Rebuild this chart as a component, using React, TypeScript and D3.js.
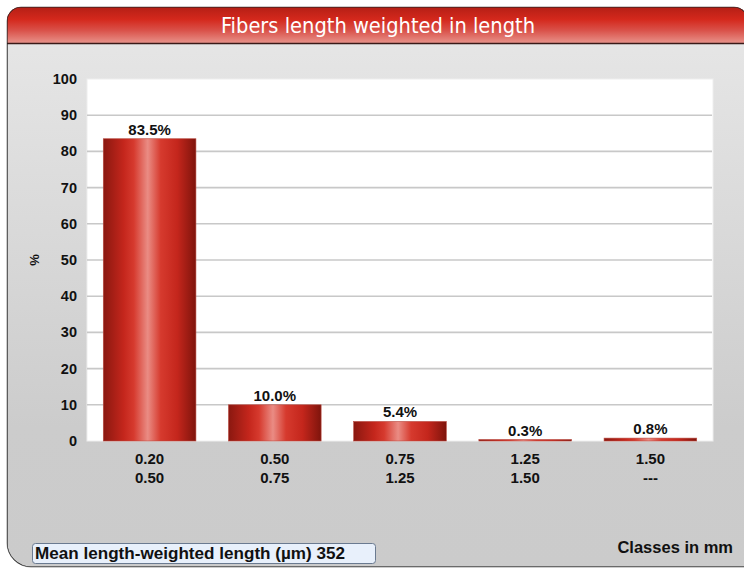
import React from "react";
import * as d3 from "d3";

const classLow = ["0.20", "0.50", "0.75", "1.25", "1.50"];
const classHigh = ["0.50", "0.75", "1.25", "1.50", "---"];
const values = [83.5, 10.0, 5.4, 0.3, 0.8];
const yTicks = [0, 10, 20, 30, 40, 50, 60, 70, 80, 90, 100];
const title = "Fibers length weighted in length";
const yLabel = "%";
const xLabel = "Classes in mm";
const meanText = "Mean length-weighted length (µm) 352";

const W = 744;
const H = 571;
const plot = { left: 87, right: 713, top: 79, bottom: 441 };

export default function App() {
  const cats = classLow.map((_, i) => String(i));
  const x = d3.scaleBand<string>().domain(cats).range([plot.left, plot.right]).paddingInner(0.26).paddingOuter(0.13);
  const y = d3.scaleLinear().domain([0, 100]).range([plot.bottom, plot.top]);
  const font = "'Liberation Sans', Arial, sans-serif";

  const frame = d3.path();
  const fx0 = 7, fy0 = 7, fx1 = 748, fy1 = 567, r = 14;
  frame.moveTo(fx0, fy0 + r);
  frame.arcTo(fx0, fy0, fx0 + r, fy0, r);
  frame.lineTo(fx1 - r, fy0);
  frame.arcTo(fx1, fy0, fx1, fy0 + r, r);
  frame.lineTo(fx1, fy1);
  frame.lineTo(fx0 + 24, fy1);
  frame.arcTo(fx0, fy1, fx0, fy1 - 24, 24);
  frame.closePath();

  return (
    <svg width={W} height={H} style={{ position: "absolute", left: 0, top: 0, display: "block" }}>
      <defs>
        <linearGradient id="bg" x1="0" y1="0" x2="0" y2="1">
          <stop offset="0" stopColor="#e8e8e8" />
          <stop offset="0.75" stopColor="#cccccc" />
          <stop offset="1" stopColor="#cbcbcb" />
        </linearGradient>
        <linearGradient id="hdr" x1="0" y1="0" x2="0" y2="1">
          <stop offset="0" stopColor="#a21a12" />
          <stop offset="0.45" stopColor="#d4281c" />
          <stop offset="0.7" stopColor="#d95048" />
          <stop offset="1" stopColor="#e8928a" />
        </linearGradient>
        <linearGradient id="bar" x1="0" y1="0" x2="1" y2="0">
          <stop offset="0" stopColor="#8a1810" />
          <stop offset="0.22" stopColor="#c4261c" />
          <stop offset="0.33" stopColor="#d63a2e" />
          <stop offset="0.48" stopColor="#ea8c84" />
          <stop offset="0.62" stopColor="#d63a2e" />
          <stop offset="0.8" stopColor="#c4261c" />
          <stop offset="1" stopColor="#7e140c" />
        </linearGradient>
        <clipPath id="fclip">
          <path d={frame.toString()} />
        </clipPath>
      </defs>
      <rect x={0} y={0} width={W} height={H} fill="#ffffff" />
      <path d={frame.toString()} fill="url(#bg)" stroke="#9a9a9a" strokeWidth={1} />
      <g clipPath="url(#fclip)">
        <rect x={0} y={0} width={W} height={43} fill="url(#hdr)" />
        <line x1={0} x2={W} y1={43.5} y2={43.5} stroke="#3a1a18" strokeWidth={1.5} />
      </g>
      <path d={frame.toString()} fill="none" stroke="#222" strokeWidth={1.2} clipPath="url(#fclip)" />
      <text x={378} y={33} fill="#ffffff" fontFamily="'DejaVu Sans Condensed', 'Liberation Sans', Arial, sans-serif" fontSize={22} textAnchor="middle" textLength={314} lengthAdjust="spacingAndGlyphs">{title}</text>

      <rect x={plot.left} y={plot.top} width={plot.right - plot.left} height={plot.bottom - plot.top} fill="#ffffff" stroke="#eeeeee" strokeWidth={1} />
      {yTicks.filter((t) => t > 0 && t < 100).map((t) => (
        <line key={t} x1={plot.left} x2={plot.right - 1} y1={y(t)} y2={y(t)} stroke="#c8c8c8" strokeWidth={1.6} />
      ))}
      {yTicks.map((t) => (
        <text key={t} x={77} y={y(t) + 5} textAnchor="end" fontFamily={font} fontWeight="bold" fontSize={14.5} fill="#111">{t}</text>
      ))}
      <text transform={`translate(39,${y(50)}) rotate(-90)`} textAnchor="middle" fontFamily={font} fontWeight="bold" fontSize={13} fill="#111">{yLabel}</text>

      {values.map((v, i) => {
        const bx = x(String(i))!;
        const bw = x.bandwidth();
        const top = y(v);
        const h = Math.max(plot.bottom - top, 1.5);
        return (
          <g key={i}>
            <rect x={bx} y={plot.bottom - h} width={bw} height={h} fill="url(#bar)" stroke="#b84a40" strokeWidth={0.6} />
            <text x={bx + bw / 2} y={plot.bottom - h - 4} textAnchor="middle" fontFamily={font} fontWeight="bold" fontSize={15} fill="#111">{v.toFixed(1)}%</text>
            <text x={bx + bw / 2} y={464} textAnchor="middle" fontFamily={font} fontWeight="bold" fontSize={15} fill="#111">{classLow[i]}</text>
            <text x={bx + bw / 2} y={483} textAnchor="middle" fontFamily={font} fontWeight="bold" fontSize={15} fill="#111">{classHigh[i]}</text>
          </g>
        );
      })}

      <text x={733} y={553} textAnchor="end" fontFamily={font} fontWeight="bold" fontSize={16.5} fill="#111">{xLabel}</text>
      <rect x={32.5} y={543.5} width={343} height={20} rx={3} fill="#e8f0fb" stroke="#6a7a90" strokeWidth={1} />
      <text x={35} y={559} fontFamily={font} fontWeight="bold" fontSize={17} fill="#111" textLength={310} lengthAdjust="spacingAndGlyphs">{meanText}</text>
    </svg>
  );
}
